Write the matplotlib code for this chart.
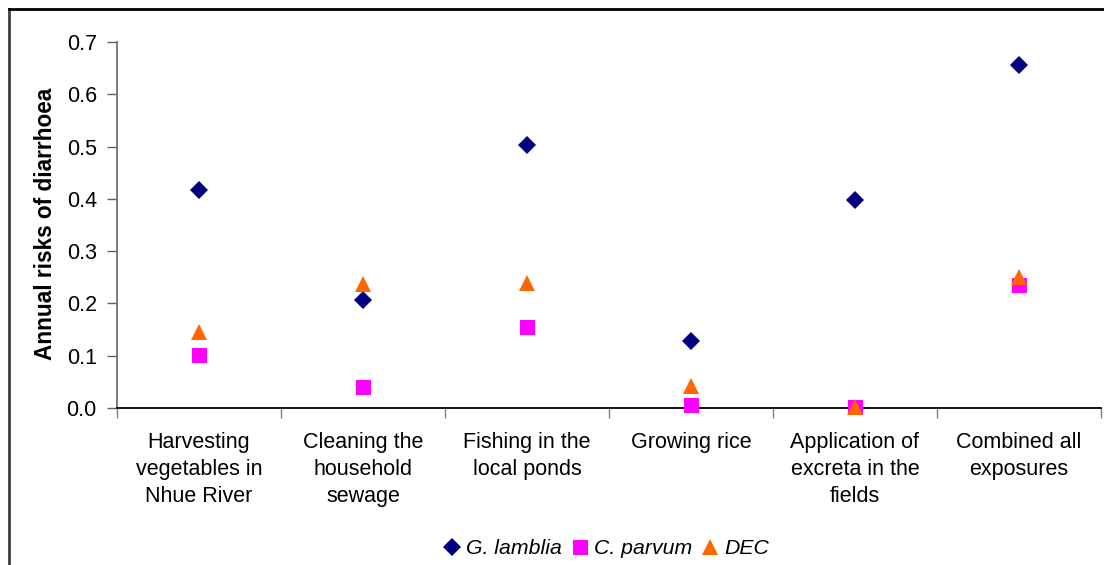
import matplotlib
matplotlib.use("Agg")
import matplotlib.pyplot as plt
from matplotlib.lines import Line2D

plt.rcParams['font.family'] = ['Liberation Sans', 'DejaVu Sans']

categories = [
    "Harvesting\nvegetables in\nNhue River",
    "Cleaning the\nhousehold\nsewage",
    "Fishing in the\nlocal ponds",
    "Growing rice",
    "Application of\nexcreta in the\nfields",
    "Combined all\nexposures",
]
g_lamblia = [0.417, 0.207, 0.503, 0.128, 0.398, 0.656]
c_parvum = [0.101, 0.040, 0.155, 0.005, 0.002, 0.235]
dec = [0.145, 0.237, 0.240, 0.042, 0.002, 0.250]
y_ticks = [0.0, 0.1, 0.2, 0.3, 0.4, 0.5, 0.6, 0.7]

W, H = 1104, 565
fig = plt.figure(figsize=(W / 100, H / 100), dpi=100)
ax = fig.add_axes([117 / W, 1 - 408 / H, (1101 - 117) / W, (408 - 42) / H])

x = list(range(len(categories)))
series = [
    (g_lamblia, "D", "#000080", 8.8, "G. lamblia"),
    (c_parvum, "s", "#FF00FF", 10.8, "C. parvum"),
    (dec, "^", "#FF6600", 11.5, "DEC"),
]
for vals, mk, col, ms, lab in series:
    ax.plot(x, vals, linestyle="none", marker=mk, color=col, markersize=ms,
            markeredgewidth=0, label=lab, clip_on=False, zorder=3)

ax.set_xlim(-0.5, len(categories) - 0.5)
ax.set_ylim(0, 0.7)
ax.set_yticks(y_ticks)
ax.set_yticklabels([f"{v:.1f}" for v in y_ticks])

ax.set_xticks(x)
ax.set_xticklabels(categories, linespacing=1.39)
ax.set_xticks([i - 0.5 for i in range(len(categories) + 1)], minor=True)
ax.tick_params(axis="x", which="major", length=0, pad=17, labelsize=15.5)
ax.tick_params(axis="x", which="minor", length=7, width=1.0, color="#808080",
               direction="out")
ax.tick_params(axis="y", length=7, width=1.0, color="#606060", pad=7.5,
               labelsize=15.5)

for s in ("top", "right"):
    ax.spines[s].set_visible(False)
ax.spines["left"].set_color("#707070")
ax.spines["left"].set_linewidth(1.3)
ax.spines["bottom"].set_color("black")
ax.spines["bottom"].set_linewidth(1.3)

fig.text(46 / W, 1 - 224 / H, "Annual risks of diarrhoea", rotation=90,
         ha="center", va="center", fontsize=16.3, fontweight="bold")

# outer frame of the chart area
fig.add_artist(Line2D([8.5 / W, 8.5 / W], [0, 1 - 9 / H], color="#404040",
                      linewidth=2, transform=fig.transFigure))
fig.add_artist(Line2D([8.5 / W, 1], [1 - 9 / H, 1 - 9 / H], color="black",
                      linewidth=2, transform=fig.transFigure))

leg = fig.legend(loc="center", bbox_to_anchor=(607 / W, 1 - 549 / H), ncol=3,
                 frameon=False, handlelength=0.7, handletextpad=0.3,
                 columnspacing=0.5, prop={"style": "italic", "size": 15.3})

fig.savefig("out.png", dpi=100)
